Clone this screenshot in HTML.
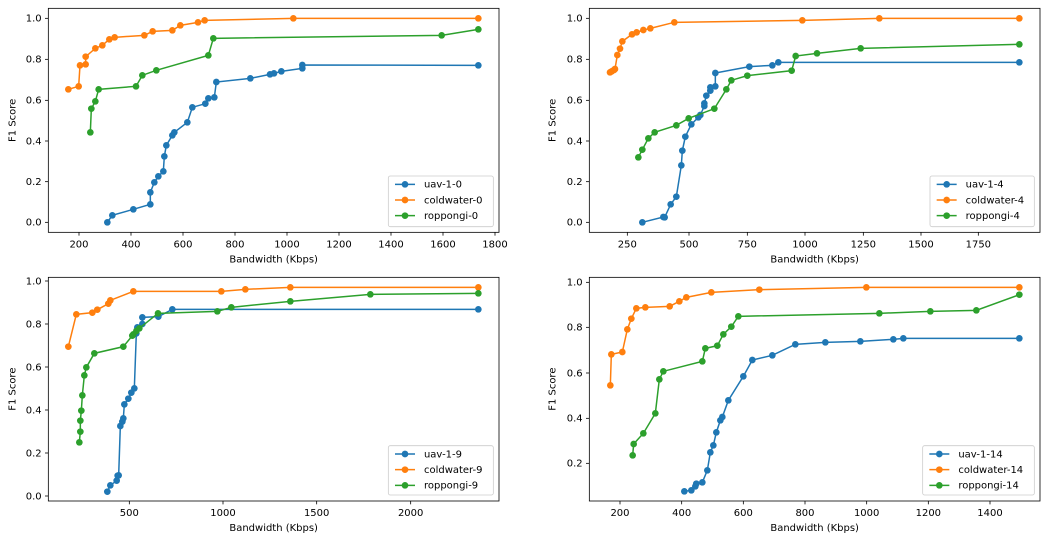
<!DOCTYPE html>
<html><head><meta charset="utf-8"><style>
html,body{margin:0;padding:0;background:#fff;width:1047px;height:541px;overflow:hidden}
svg text{font-family:"DejaVu Sans","Liberation Sans",sans-serif;fill:#000}
</style></head><body>
<svg id="s" width="1047" height="541" viewBox="0 0 1047 541" xmlns="http://www.w3.org/2000/svg"></svg>
<script>
const B='#1f77b4',O='#ff7f0e',G='#2ca02c';
const panels=[
{off:[0,0],fr:[145,25,1497,697],yt:[[667,'0.0'],[545,'0.2'],[423,'0.4'],[301,'0.6'],[178,'0.8'],[55,'1.0']],
 xt:[[237,'200'],[393,'400'],[549,'600'],[705,'800'],[861,'1000'],[1017,'1200'],[1173,'1400'],[1329,'1600'],[1485,'1800']],
 lg:[1165,528,1480,680],names:['uav-1-0','coldwater-0','roppongi-0'],
 s:[[B,[[322,667],[337,646],[400,628],[451,613],[451,577],[463,547],[475,529],[490,514],[493,469],[499,436],[517,406],[523,397],[562,367],[577,322],[616,311],[625,295],[643,292],[649,246],[751,235],[810,223],[822,220],[844,214],[907,205],[907,195],[1435,196]]],
 [O,[[205,268],[236,259],[240,196],[257,193],[257,170],[286,145],[307,136],[328,118],[344,112],[433,106],[458,94],[517,91],[541,76],[594,67],[614,61],[880,55],[1435,55]]],
 [G,[[271,397],[274,326],[286,304],[296,268],[408,259],[427,226],[469,211],[625,166],[640,115],[1325,106],[1435,88]]]]},
{off:[540,0],fr:[148,25,1500,697],yt:[[667,'0.0'],[545,'0.2'],[423,'0.4'],[301,'0.6'],[178,'0.8'],[55,'1.0']],
 xt:[[262,'250'],[447,'500'],[622,'750'],[795,'1000'],[970,'1250'],[1143,'1500'],[1315,'1750']],
 lg:[1170,528,1483,680],names:['uav-1-4','coldwater-4','roppongi-4'],
 s:[[B,[[307,667],[370,651],[374,652],[392,613],[409,590],[424,496],[427,452],[436,410],[454,373],[475,352],[481,345],[493,318],[493,310],[499,287],[511,272],[511,262],[526,259],[526,219],[628,200],[697,196],[715,187],[1438,187]]],
 [O,[[210,217],[215,214],[222,210],[225,207],[232,165],[240,146],[247,124],[276,103],[290,97],[310,90],[331,85],[403,67],[787,61],[1018,55],[1438,55]]],
 [G,[[295,472],[307,449],[325,415],[344,397],[409,376],[446,355],[523,326],[559,268],[574,241],[622,227],[755,212],[767,168],[831,160],[962,145],[1438,133]]]]},
{off:[0,270],fr:[145,22,1497,693],yt:[[678,'0.0'],[549,'0.2'],[420,'0.4'],[291,'0.6'],[162,'0.8'],[33,'1.0']],
 xt:[[388,'500'],[669,'1000'],[950,'1500'],[1232,'2000']],
 lg:[1165,527,1480,675],names:['uav-1-9','coldwater-9','roppongi-9'],
 s:[[B,[[322,665],[331,646],[350,632],[353,617],[356,616],[361,468],[367,455],[370,445],[373,403],[385,386],[394,368],[403,355],[409,190],[412,172],[427,162],[427,142],[475,140],[517,118],[1435,118]]],
 [O,[[205,230],[229,133],[277,128],[292,119],[325,101],[331,91],[400,64],[664,64],[736,58],[871,52],[1435,52]]],
 [G,[[238,517],[241,485],[241,452],[244,422],[247,376],[253,316],[259,292],[283,250],[370,230],[397,197],[400,193],[409,183],[418,175],[474,130],[652,124],[694,112],[871,94],[1111,73],[1435,70]]]]},
{off:[540,270],fr:[148,22,1500,693],yt:[[580,'0.2'],[445,'0.4'],[309,'0.6'],[172,'0.8'],[37,'1.0']],
 xt:[[240,'200'],[425,'400'],[610,'600'],[795,'800'],[980,'1000'],[1165,'1200'],[1350,'1400']],
 lg:[1148,527,1483,675],names:['uav-1-14','coldwater-14','roppongi-14'],
 s:[[B,[[433,664],[454,661],[466,649],[469,641],[487,637],[502,601],[511,547],[520,526],[529,487],[541,451],[547,441],[565,391],[610,319],[637,270],[697,256],[766,223],[856,217],[961,214],[1060,208],[1090,205],[1438,205]]],
 [O,[[211,346],[214,253],[247,246],[262,178],[274,146],[289,115],[316,112],[389,109],[418,94],[439,82],[514,67],[658,59],[979,52],[1438,52]]],
 [G,[[278,556],[281,522],[310,490],[346,430],[358,328],[370,304],[487,274],[496,235],[532,227],[550,193],[574,170],[595,139],[1018,130],[1171,124],[1309,121],[1438,74]]]]}
];
let h='';
for(const p of panels){
 const [l,t,r,b]=p.fr;
 h+=`<g transform="translate(${p.off[0]},${p.off[1]}) scale(0.3333333)">`;
 for(const [y,lab] of p.yt){h+=`<line x1="${l-10}" y1="${y}" x2="${l}" y2="${y}" stroke="#000" stroke-width="2.4"/><text x="${l-20}" y="${y+10}" font-size="30" text-anchor="end">${lab}</text>`;}
 for(const [x,lab] of p.xt){h+=`<line x1="${x}" y1="${b}" x2="${x}" y2="${b+10}" stroke="#000" stroke-width="2.4"/><text x="${x}" y="${b+45}" font-size="30" text-anchor="middle">${lab}</text>`;}
 h+=`<text x="0" y="0" font-size="30" text-anchor="middle" transform="translate(46,${(t+b)/2}) rotate(-90)">F1 Score</text>`;
 h+=`<text x="${(l+r)/2}" y="${b+90}" font-size="30" text-anchor="middle">Bandwidth (Kbps)</text>`;
 for(const [c,pts] of p.s){
  h+=`<polyline points="${pts.map(q=>q.join(',')).join(' ')}" fill="none" stroke="${c}" stroke-width="4.5"/>`;
  for(const q of pts)h+=`<circle cx="${q[0]}" cy="${q[1]}" r="10" fill="${c}"/>`;
 }
 h+=`<rect x="${l}" y="${t}" width="${r-l}" height="${b-t}" fill="none" stroke="#000" stroke-width="2.4"/>`;
 const [a,bb,c2,d]=p.lg;
 h+=`<rect x="${a}" y="${bb}" width="${c2-a}" height="${d-bb}" rx="6" fill="#fff" fill-opacity="0.8" stroke="#ccc" stroke-width="2.4"/>`;
 [B,O,G].forEach((c,i)=>{const y=bb+25+i*47;
  h+=`<line x1="${a+20}" y1="${y}" x2="${a+80}" y2="${y}" stroke="${c}" stroke-width="4.5"/><circle cx="${a+50}" cy="${y}" r="10" fill="${c}"/><text x="${a+107}" y="${y+10}" font-size="30">${p.names[i]}</text>`;});
 h+='</g>';
}
document.getElementById('s').innerHTML=h;
</script>
</body></html>
